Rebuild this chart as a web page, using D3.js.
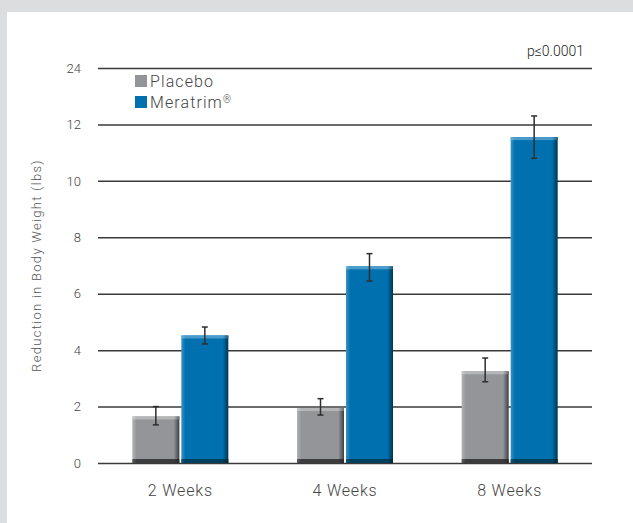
<!DOCTYPE html>
<html>
<head>
<meta charset="utf-8">
<script src="https://cdn.jsdelivr.net/npm/d3@7"></script>
<style>
  body { margin: 0; background: #dcdddf; }
  text { font-family: "Roboto", "DejaVu Sans Condensed", sans-serif; font-weight: 300; fill: #3a3a3a; }
</style>
</head>
<body>
<div id="canvas"></div>
<script>
const categories = ["2 Weeks", "4 Weeks", "8 Weeks"];
const series = ["Placebo", "Meratrim"];
const placebo = [1.65, 1.95, 3.25];
const placeboErr = [[1.35, 2.0], [1.7, 2.28], [2.88, 3.72]];
const meratrim = [4.52, 6.97, 11.55];
const meratrimErr = [[4.22, 4.82], [6.45, 7.42], [10.8, 12.3]];
const tickValues = [0, 2, 4, 6, 8, 10, 12, 14];
const tickLabels = ["0", "2", "4", "6", "8", "10", "12", "24"];

const W = 633, H = 523;
const margin = { top: 68, right: 41, bottom: 60, left: 98 };
const width = W - margin.left - margin.right;
const height = H - margin.top - margin.bottom;

const root = d3.select("#canvas").append("svg")
    .attr("width", W)
    .attr("height", H);

// white panel
root.append("rect")
    .attr("x", 7).attr("y", 12)
    .attr("width", W).attr("height", H)
    .style("fill", "white");

const defs = root.append("defs");
function barGradient(id, light, mid, dark) {
    const h = defs.append("linearGradient").attr("id", id)
        .attr("x1", 0).attr("x2", 1).attr("y1", 0).attr("y2", 0);
    h.append("stop").attr("offset", "0%").attr("stop-color", light);
    h.append("stop").attr("offset", "9%").attr("stop-color", mid);
    h.append("stop").attr("offset", "88%").attr("stop-color", mid);
    h.append("stop").attr("offset", "100%").attr("stop-color", dark);
}
barGradient("grey", "#b0b2b4", "#939598", "#3e3e40");
barGradient("blue", "#3b93c8", "#0070ae", "#00354f");
barGradient("greyTop", "#c8cacc", "#b4b6b8", "#6a6a6c");
barGradient("blueTop", "#6cb0da", "#4a9bcc", "#20587a");
barGradient("greyBot", "#5a5a5c", "#3c3c3e", "#2a2a2a");
barGradient("blueBot", "#1d5472", "#00405e", "#002535");

const svg = root.append("g")
    .attr("transform", `translate(${margin.left}, ${margin.top})`);

const yScale = d3.scaleLinear().domain([0, 14]).range([height, 0]);
const xScale = d3.scaleBand().domain(categories).range([0, width]).padding(0);
const x1 = d3.scaleBand().domain(series).range([-48, 48]).paddingInner(0.04);

// gridlines
svg.append("g")
    .attr("class", "grid")
    .call(d3.axisLeft(yScale).tickValues(tickValues).tickSize(-width).tickFormat(""))
    .call(g => g.select(".domain").remove())
    .selectAll("line")
    .style("stroke", "#3a3a3a")
    .style("stroke-width", 1.5);

// y tick labels
svg.append("g")
    .call(d3.axisLeft(yScale).tickValues(tickValues).tickSize(0).tickPadding(17)
        .tickFormat((d, i) => tickLabels[i]))
    .call(g => g.select(".domain").remove())
    .selectAll("text")
    .style("font-size", "13px")
    .style("fill", "#444");

// x labels
svg.append("g")
    .attr("transform", `translate(0, ${height})`)
    .call(d3.axisBottom(xScale).tickSize(0).tickPadding(22))
    .call(g => g.select(".domain").remove())
    .selectAll("text")
    .style("font-size", "16px")
    .style("letter-spacing", "0.8px")
    .style("fill", "#444");

const data = categories.map((c, i) => ({
    cat: c,
    vals: [
        { s: series[0], v: placebo[i], err: placeboErr[i], grad: "grey" },
        { s: series[1], v: meratrim[i], err: meratrimErr[i], grad: "blue" }
    ]
}));

const groups = svg.selectAll(".group")
    .data(data)
    .enter().append("g")
    .attr("class", "group")
    .attr("transform", d => `translate(${xScale(d.cat) + xScale.bandwidth() / 2}, 0)`);

const bars = groups.selectAll(".bar")
    .data(d => d.vals)
    .enter().append("g");

bars.append("rect")
    .attr("x", d => x1(d.s))
    .attr("y", d => yScale(d.v))
    .attr("width", x1.bandwidth())
    .attr("height", d => yScale(0) - yScale(d.v))
    .style("fill", d => `url(#${d.grad})`);
// lighter top edge
bars.append("rect")
    .attr("x", d => x1(d.s))
    .attr("y", d => yScale(d.v))
    .attr("width", x1.bandwidth())
    .attr("height", 3)
    .style("fill", d => `url(#${d.grad}Top)`);
// dark bottom edge
bars.append("rect")
    .attr("x", d => x1(d.s))
    .attr("y", yScale(0) - 4)
    .attr("width", x1.bandwidth())
    .attr("height", 4)
    .style("fill", d => `url(#${d.grad}Bot)`);

// error bars
const cx = d => x1(d.s) + x1.bandwidth() / 2;
bars.append("line")
    .attr("x1", cx).attr("x2", cx)
    .attr("y1", d => yScale(d.err[0])).attr("y2", d => yScale(d.err[1]))
    .style("stroke", "#2e2e2e").style("stroke-width", 1.5);
bars.selectAll(".cap")
    .data(d => d.err.map(e => ({ x: cx(d), e })))
    .enter().append("line")
    .attr("x1", d => d.x - 3).attr("x2", d => d.x + 3)
    .attr("y1", d => yScale(d.e)).attr("y2", d => yScale(d.e))
    .style("stroke", "#2e2e2e").style("stroke-width", 1.5);

// legend
const legendColors = ["#939598", "#0070ae"];
const legend = svg.selectAll(".legend")
    .data(series)
    .enter().append("g")
    .attr("transform", (d, i) => `translate(37, ${7 + i * 21})`);
legend.append("rect")
    .attr("width", 12).attr("height", 12)
    .style("fill", (d, i) => legendColors[i]);
const ltext = legend.append("text")
    .attr("x", 15).attr("y", 6).attr("dy", "0.36em")
    .style("font-size", "16px")
    .style("letter-spacing", "1.1px")
    .style("fill", "#444")
    .text(d => d);
ltext.filter((d, i) => i === 1).append("tspan")
    .attr("dy", "-0.45em")
    .style("font-size", "10px")
    .text("®");

// p value
svg.append("text")
    .attr("x", width - 8).attr("y", -12)
    .attr("text-anchor", "end")
    .style("font-size", "14px")
    .style("fill", "#222")
    .text("p≤0.0001");

// y title
svg.append("text")
    .attr("transform", `translate(-57, ${yScale(7)}) rotate(-90)`)
    .attr("text-anchor", "middle")
    .style("font-size", "13px")
    .style("letter-spacing", "1.3px")
    .style("fill", "#555")
    .text("Reduction in Body Weight (lbs)");
</script>
</body>
</html>
